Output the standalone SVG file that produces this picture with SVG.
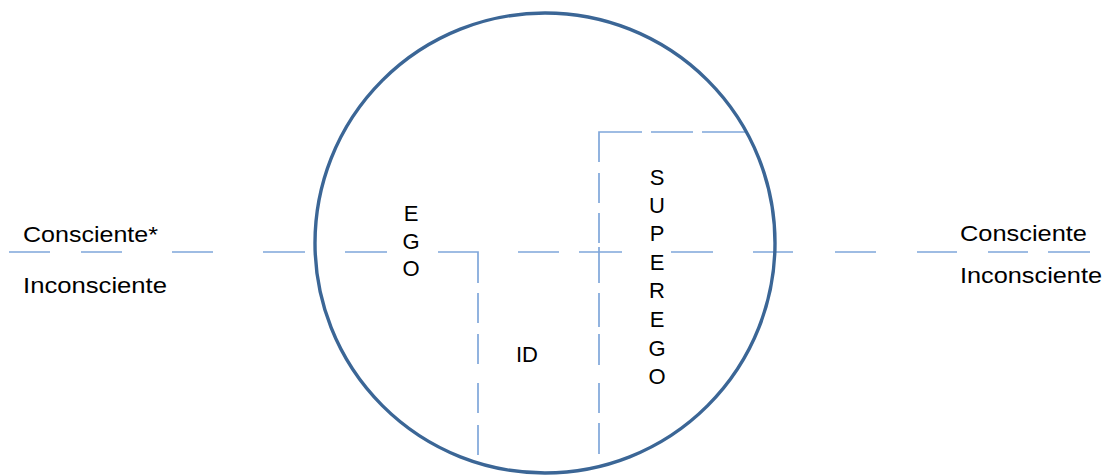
<svg xmlns="http://www.w3.org/2000/svg" width="1110" height="475" viewBox="0 0 1110 475">
<style>
.t{font-family:"Liberation Sans",Arial,sans-serif;font-size:22px;fill:#000}
.c{text-anchor:middle}
.d{fill:none;stroke:#7FA6DA;stroke-width:1.7}
</style>
<rect width="1110" height="475" fill="#fff"/>
<g id="connectors">
<path class="d" d="M9 252H50M81 252H122M172 252H213M263 252H305M345 252H387M438 252H478V283M478 293V323M478 334V364M478 383V413M478 425V455M518 252H559M579 252H622M671 252H713M753 252H793M835 252H876M917 252H957M988 252H1028M1048 252H1090"/>
<path class="d" d="M642 132H599V162M599 173V203M599 213V243M599 247V283M599 293V327M599 334V365M599 383V413M599 423V454M651 132H693M702 132H746"/>
</g>
<g id="psyche">
<circle cx="545" cy="243" r="230" fill="none" stroke="#3B6696" stroke-width="3.4"/>
</g>
<g id="labels-left">
<text class="t" x="23" y="242" textLength="135" lengthAdjust="spacingAndGlyphs">Consciente*</text>
<text class="t" x="23" y="293" textLength="144" lengthAdjust="spacingAndGlyphs">Inconsciente</text>
</g>
<g id="labels-right">
<text class="t" x="960" y="241" textLength="127" lengthAdjust="spacingAndGlyphs">Consciente</text>
<text class="t" x="960" y="283" textLength="142" lengthAdjust="spacingAndGlyphs">Inconsciente</text>
</g>
<g id="ego">
<text class="t c" x="411" y="221">E</text>
<text class="t c" x="411" y="249">G</text>
<text class="t c" x="411" y="276">O</text>
</g>
<g id="id">
<text class="t c" x="527" y="362">ID</text>
</g>
<g id="superego">
<text class="t c" x="657" y="185">S</text>
<text class="t c" x="657" y="213">U</text>
<text class="t c" x="657" y="241">P</text>
<text class="t c" x="657" y="270">E</text>
<text class="t c" x="657" y="298">R</text>
<text class="t c" x="657" y="327">E</text>
<text class="t c" x="657" y="356">G</text>
<text class="t c" x="657" y="384">O</text>
</g>
</svg>
